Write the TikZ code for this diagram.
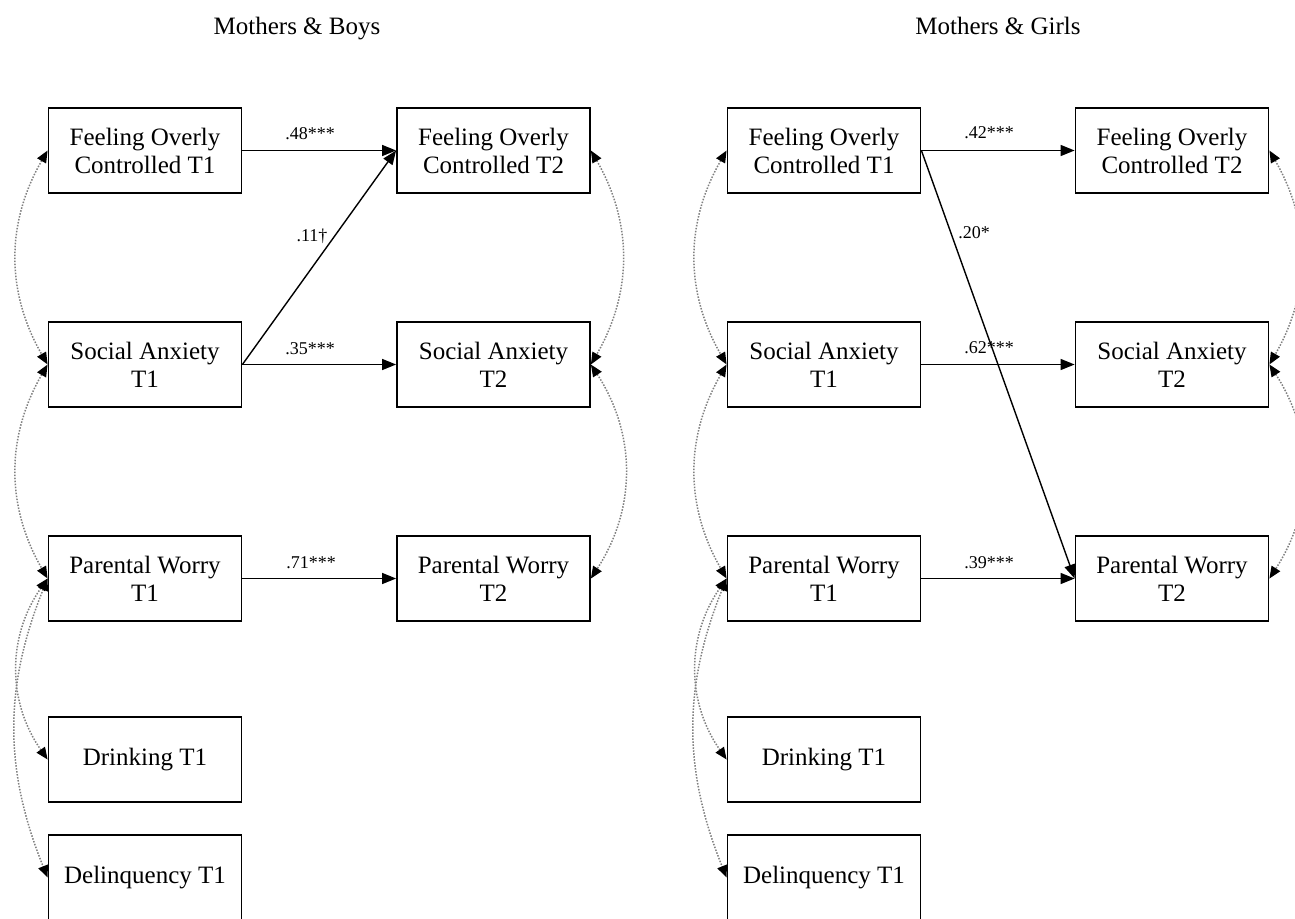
\documentclass[tikz,border=0pt]{standalone}
\usepackage{fontspec}
\setmainfont{Liberation Serif}
\usetikzlibrary{arrows.meta}
\begin{document}
\begin{tikzpicture}[x=1pt, y=-1pt,
    box/.style={draw, line width=1.8pt, minimum width=193pt, minimum height=85pt, inner sep=0pt, align=center, font=\fontsize{25}{28}\selectfont},
    heading/.style={anchor=base, font=\fontsize{25}{28}\selectfont},
    coef/.style={inner sep=0pt, font=\fontsize{18}{20}\selectfont},
    effect/.style={line width=1.4pt, -{Triangle[length=14pt, width=11pt]}},
    cov/.style={gray, line width=1.5pt, dash pattern=on 1.5pt off 1.5pt, {Triangle[length=12pt, width=10pt, color=black]}-{Triangle[length=12pt, width=10pt, color=black]}}
]
\useasboundingbox (0,0) rectangle (1295,918);
\clip (0,0) rectangle (1295,918);

% (1) Mothers & Boys
\node[heading] (tb) at (297,34) {Mothers \& Boys};

\node[box] (fb1) at (145,150.5) {Feeling Overly\\Controlled T1};
\node[box] (sb1) at (145,364.5) {Social Anxiety\\T1};
\node[box] (pb1) at (145,578.5) {Parental Worry\\T1};
\node[box] (db1) at (145,759.5) {Drinking T1};
\node[box] (qb1) at (145,877.5) {Delinquency T1};

\node[box] (fb2) at (493.5,150.5) {Feeling Overly\\Controlled T2};
\node[box] (sb2) at (493.5,364.5) {Social Anxiety\\T2};
\node[box] (pb2) at (493.5,578.5) {Parental Worry\\T2};

\draw[effect] (fb1.east) -- (fb2.west);
\draw[effect] (sb1.east) -- (sb2.west);
\draw[effect] (sb1.east) -- (fb2.west);
\draw[effect] (pb1.east) -- (pb2.west);
\node[coef] (cb1) at (310,134) {.48***};
\node[coef] (cb2) at (312,236) {.11†};
\node[coef] (cb3) at (310,349) {.35***};
\node[coef] (cb4) at (311,563) {.71***};

\draw[cov, bend right=30] (fb1.west) to (sb1.west);
\draw[cov, bend right=30] (sb1.west) to (pb1.west);
\draw[cov, bend right=35] (pb1.west) to (db1.west);
\draw[cov, bend right=22] (pb1.west) to (qb1.west);
\draw[cov, bend left=30] (fb2.east) to (sb2.east);
\draw[cov, bend left=33] (sb2.east) to (pb2.east);

% (2) Mothers & Girls
\node[heading] (tg) at (998,34) {Mothers \& Girls};

\node[box] (fg1) at (824,150.5) {Feeling Overly\\Controlled T1};
\node[box] (sg1) at (824,364.5) {Social Anxiety\\T1};
\node[box] (pg1) at (824,578.5) {Parental Worry\\T1};
\node[box] (dg1) at (824,759.5) {Drinking T1};
\node[box] (qg1) at (824,877.5) {Delinquency T1};

\node[box] (fg2) at (1172,150.5) {Feeling Overly\\Controlled T2};
\node[box] (sg2) at (1172,364.5) {Social Anxiety\\T2};
\node[box] (pg2) at (1172,578.5) {Parental Worry\\T2};

\draw[effect] (fg1.east) -- (fg2.west);
\draw[effect] (fg1.east) -- (pg2.west);
\draw[effect] (sg1.east) -- (sg2.west);
\draw[effect] (pg1.east) -- (pg2.west);
\node[coef] (cg1) at (989,133) {.42***};
\node[coef] (cg2) at (974,233) {.20*};
\node[coef] (cg3) at (989,348) {.62***};
\node[coef] (cg4) at (989,563) {.39***};

\draw[cov, bend right=30] (fg1.west) to (sg1.west);
\draw[cov, bend right=30] (sg1.west) to (pg1.west);
\draw[cov, bend right=35] (pg1.west) to (dg1.west);
\draw[cov, bend right=22] (pg1.west) to (qg1.west);
\draw[cov, bend left=30] (fg2.east) to (sg2.east);
\draw[cov, bend left=33] (sg2.east) to (pg2.east);

\end{tikzpicture}
\end{document}
